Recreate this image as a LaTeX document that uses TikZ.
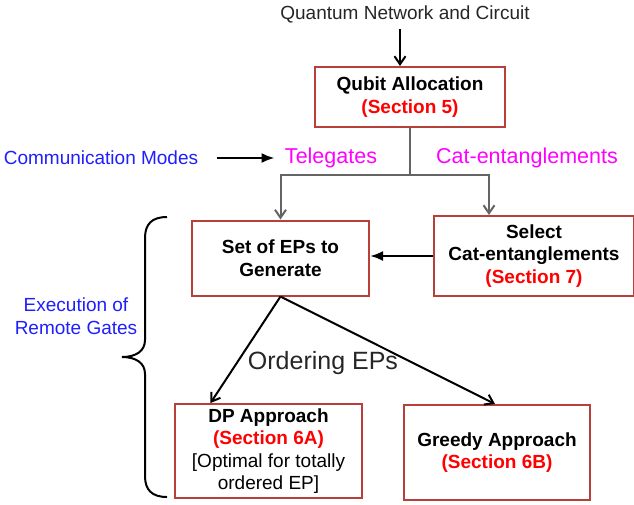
\documentclass[tikz,border=0pt]{standalone}
\usepackage{fontspec}
\setmainfont{Liberation Sans}
\usepackage{xcolor}
\usepackage{tikz}
\usetikzlibrary{arrows,arrows.meta,calc,positioning}
\definecolor{boxred}{RGB}{183,65,58}
\definecolor{secred}{RGB}{255,0,0}
\definecolor{modeblue}{RGB}{30,30,255}
\definecolor{modemag}{RGB}{255,0,255}
\definecolor{linegray}{RGB}{100,100,100}
\newcommand{\secref}[1]{\textcolor{secred}{(Section #1)}}
\tikzstyle{blk}=[draw=boxred,line width=2pt,align=center,inner sep=3pt,font=\fontsize{19}{22.5}\selectfont\bfseries]
\tikzstyle{lbl}=[font=\fontsize{19}{23}\selectfont]
\tikzstyle{mode}=[font=\fontsize{21.5}{24}\selectfont,text=modemag]
\tikzstyle{gline}=[draw=linegray,line width=2pt]
\tikzstyle{barb}=[-{Straight Barb[length=8pt,width=11pt]}]

\begin{document}
\begin{tikzpicture}[
            >={Latex[length=13pt,width=10pt]},
            x=1pt,y=-1pt,
            line width=2pt,
            auto
        ]
        \useasboundingbox (0,0) rectangle (634,504);
        \node [lbl,text=black!85] (qnc) at (405,14) {Quantum Network and Circuit};
        \node [blk,minimum width=190pt,minimum height=60pt] (qa) at (410,97) {Qubit Allocation\\\secref{5}};
        \node [lbl,text=modeblue] (cm) at (101,158) {Communication Modes};
        \node [mode] (tel) at (331,158) {Telegates};
        \node [mode] (cat) at (527,158) {Cat-entanglements};
        \node [blk,minimum width=177pt,minimum height=75pt] (sep) at (280.5,258) {Set of EPs to\\Generate};
        \node [blk,minimum width=200pt,minimum height=80pt] (sel) [right=63pt of sep,yshift=2pt] {Select\\Cat-entanglements\\\secref{7}};
        \node [blk,minimum width=187pt,minimum height=94pt] (dp) at (268.5,451) {DP Approach\\\secref{6A}\\{\mdseries [Optimal for totally}\\{\mdseries ordered EP]}};
        \node [blk,minimum width=186pt,minimum height=95pt] (gr) at (497,452.5) {Greedy Approach\\\secref{6B}};
        \node [lbl,align=center,text=modeblue] (exe) at (76,316) {Execution of\\Remote Gates};
        \node [font=\fontsize{25}{28}\selectfont,text=black!85] (ord) at (323,363) {Ordering EPs};
        \coordinate (split) at (410,175);
        \draw[barb] ($(qnc.south)+(-5,2)$) -- ($(qa.north)+(-10,0)$);
        \draw[gline] (qa.south) -- (split);
        \draw[gline,barb] (split) -| (sep.north);
        \draw[gline,barb] (split) -| ($(sel.north)+(-45,0)$);
        \draw[->,line width=2.5pt,shorten <=15pt,shorten >=6pt] (cm.east) -- (tel.west);
        \draw[->,line width=2.5pt] (sel.west) -- (sel.west -| sep.east);
        \draw[barb] (sep.south) -- ($(dp.north)+(-58,0)$);
        \draw[barb] (sep.south) -- ($(gr.north)+(-2,0)$);
        \draw (167,217) .. controls (152,217) and (145,224) .. (145,238)
            -- (145,340) .. controls (145,351) and (136,357) .. (122,357)
            .. controls (136,357) and (145,363) .. (145,374)
            -- (145,476) .. controls (145,490) and (152,497) .. (167,497);
    \end{tikzpicture}
\end{document}
